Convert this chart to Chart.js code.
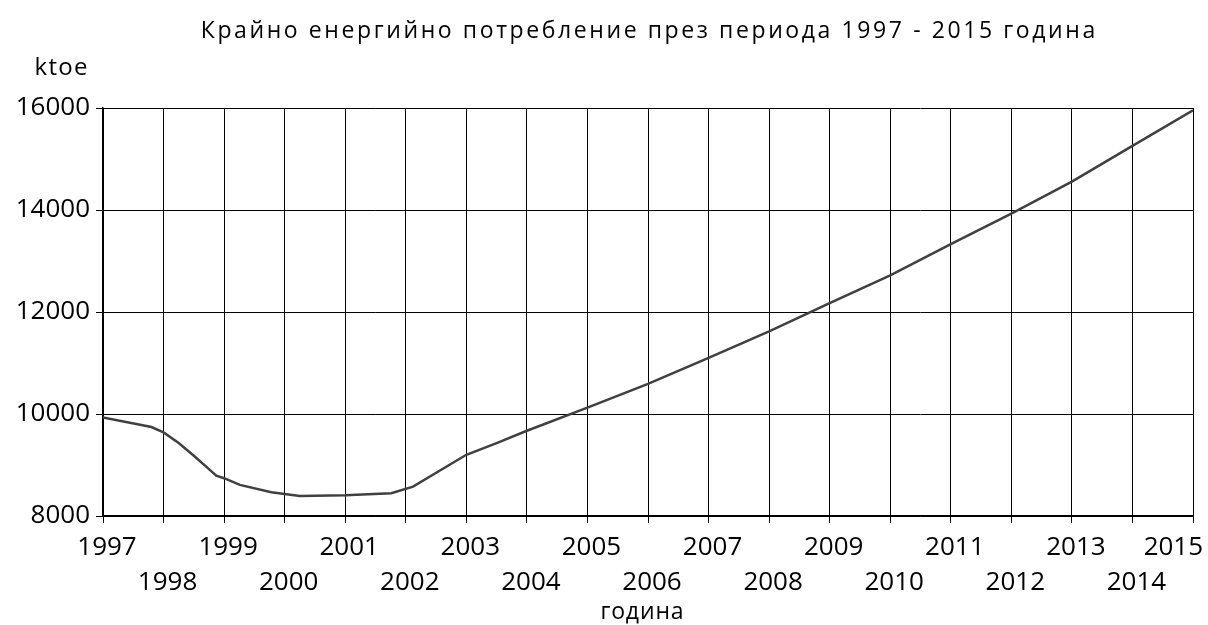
<!DOCTYPE html>
<html>
<head>
<meta charset="utf-8">
<script src="https://cdn.jsdelivr.net/npm/chart.js@4"></script>
<style>
  body { margin: 0; background: #fff; }
  #wrap { width: 1208px; height: 625px; }
</style>
</head>
<body>
<div id="wrap"><canvas id="myChart" width="1208" height="625"></canvas></div>
<script>
// points (year, ktoe)
const years = [1997, 1997.8, 1998, 1998.25, 1998.5, 1998.75, 1998.87, 1999, 1999.26, 1999.78,
  2000.25, 2001, 2001.76, 2002.12, 2003, 2003.5, 2004, 2005, 2006, 2007, 2008, 2009, 2010,
  2011, 2012, 2013, 2014, 2015];
const consumption = [9933, 9745, 9638, 9430, 9180, 8918, 8790, 8741, 8610, 8466,
  8393, 8407, 8447, 8576, 9200, 9430, 9672, 10124, 10590, 11101, 11619, 12176, 12720,
  13330, 13927, 14556, 15258, 15953];
const yTicks = [8000, 10000, 12000, 14000, 16000];

const titleText = 'Крайно енергийно потребление през периода 1997 - 2015 година';
const unitText = 'ktoe';
const xAxisText = 'година';

const FONT = '"Open Sans", sans-serif';

// draw text spread to a given width (the reference uses wide letter spacing)
function spreadText(ctx, text, cx, cy, width) {
  ctx.letterSpacing = '0px';
  const w = ctx.measureText(text).width;
  const ls = (width - w) / text.length;
  ctx.letterSpacing = ls + 'px';
  ctx.fillText(text, cx + ls / 2, cy);
  ctx.letterSpacing = '0px';
}

const textPlugin = {
  id: 'textPlugin',
  afterDraw(chart) {
    const ctx = chart.ctx;
    ctx.save();
    ctx.fillStyle = '#000';
    ctx.textBaseline = 'middle';
    ctx.textAlign = 'center';
    ctx.font = '23px ' + FONT;
    spreadText(ctx, titleText, 648, 31, 897);
    ctx.font = '24px ' + FONT;
    spreadText(ctx, unitText, 61, 68, 54);
    ctx.font = '23px ' + FONT;
    spreadText(ctx, xAxisText, 642, 612, 84);
    ctx.restore();
  }
};

const ctx = document.getElementById('myChart').getContext('2d');
new Chart(ctx, {
  type: 'line',
  data: {
    datasets: [{
      data: years.map((y, i) => ({ x: y, y: consumption[i] })),
      borderColor: '#404040',
      borderWidth: 2.5,
      pointRadius: 0,
      tension: 0,
      fill: false
    }]
  },
  options: {
    responsive: false,
    animation: false,
    devicePixelRatio: 1,
    layout: { padding: { top: 108, right: 15, left: 0, bottom: 0 } },
    plugins: { legend: { display: false }, title: { display: false }, tooltip: { enabled: false } },
    scales: {
      x: {
        type: 'linear',
        min: 1997,
        max: 2015,
        afterFit(scale) {
          scale.height = 109;
          scale.paddingLeft = 0;
          scale.paddingRight = 0;
        },
        grid: { color: '#000', lineWidth: 1, tickLength: 7, tickColor: '#000' },
        border: { color: '#000', width: 1.5 },
        ticks: {
          stepSize: 1,
          maxRotation: 0,
          autoSkip: false,
          color: '#000',
          font: { family: FONT, size: 26, lineHeight: 1.35 },
          padding: 7,
          labelOffset: 4,
          callback: v => {
            // last label sits inside the right edge, as in the reference
            const s = v === 2015 ? String(v) + '       ' : String(v);
            return v % 2 === 1 ? [s, ''] : ['', s];
          }
        }
      },
      y: {
        min: 8000,
        max: 16000,
        afterFit(scale) { scale.width = 103; },
        afterBuildTicks(scale) { scale.ticks = yTicks.map(v => ({ value: v })); },
        grid: { color: '#000', lineWidth: 1, tickLength: 7, tickColor: '#000' },
        border: { color: '#000', width: 1.5 },
        ticks: {
          color: '#000',
          font: { family: FONT, size: 26 },
          padding: 6,
          callback: v => String(v)
        }
      }
    }
  },
  plugins: [textPlugin]
});
</script>
</body>
</html>
